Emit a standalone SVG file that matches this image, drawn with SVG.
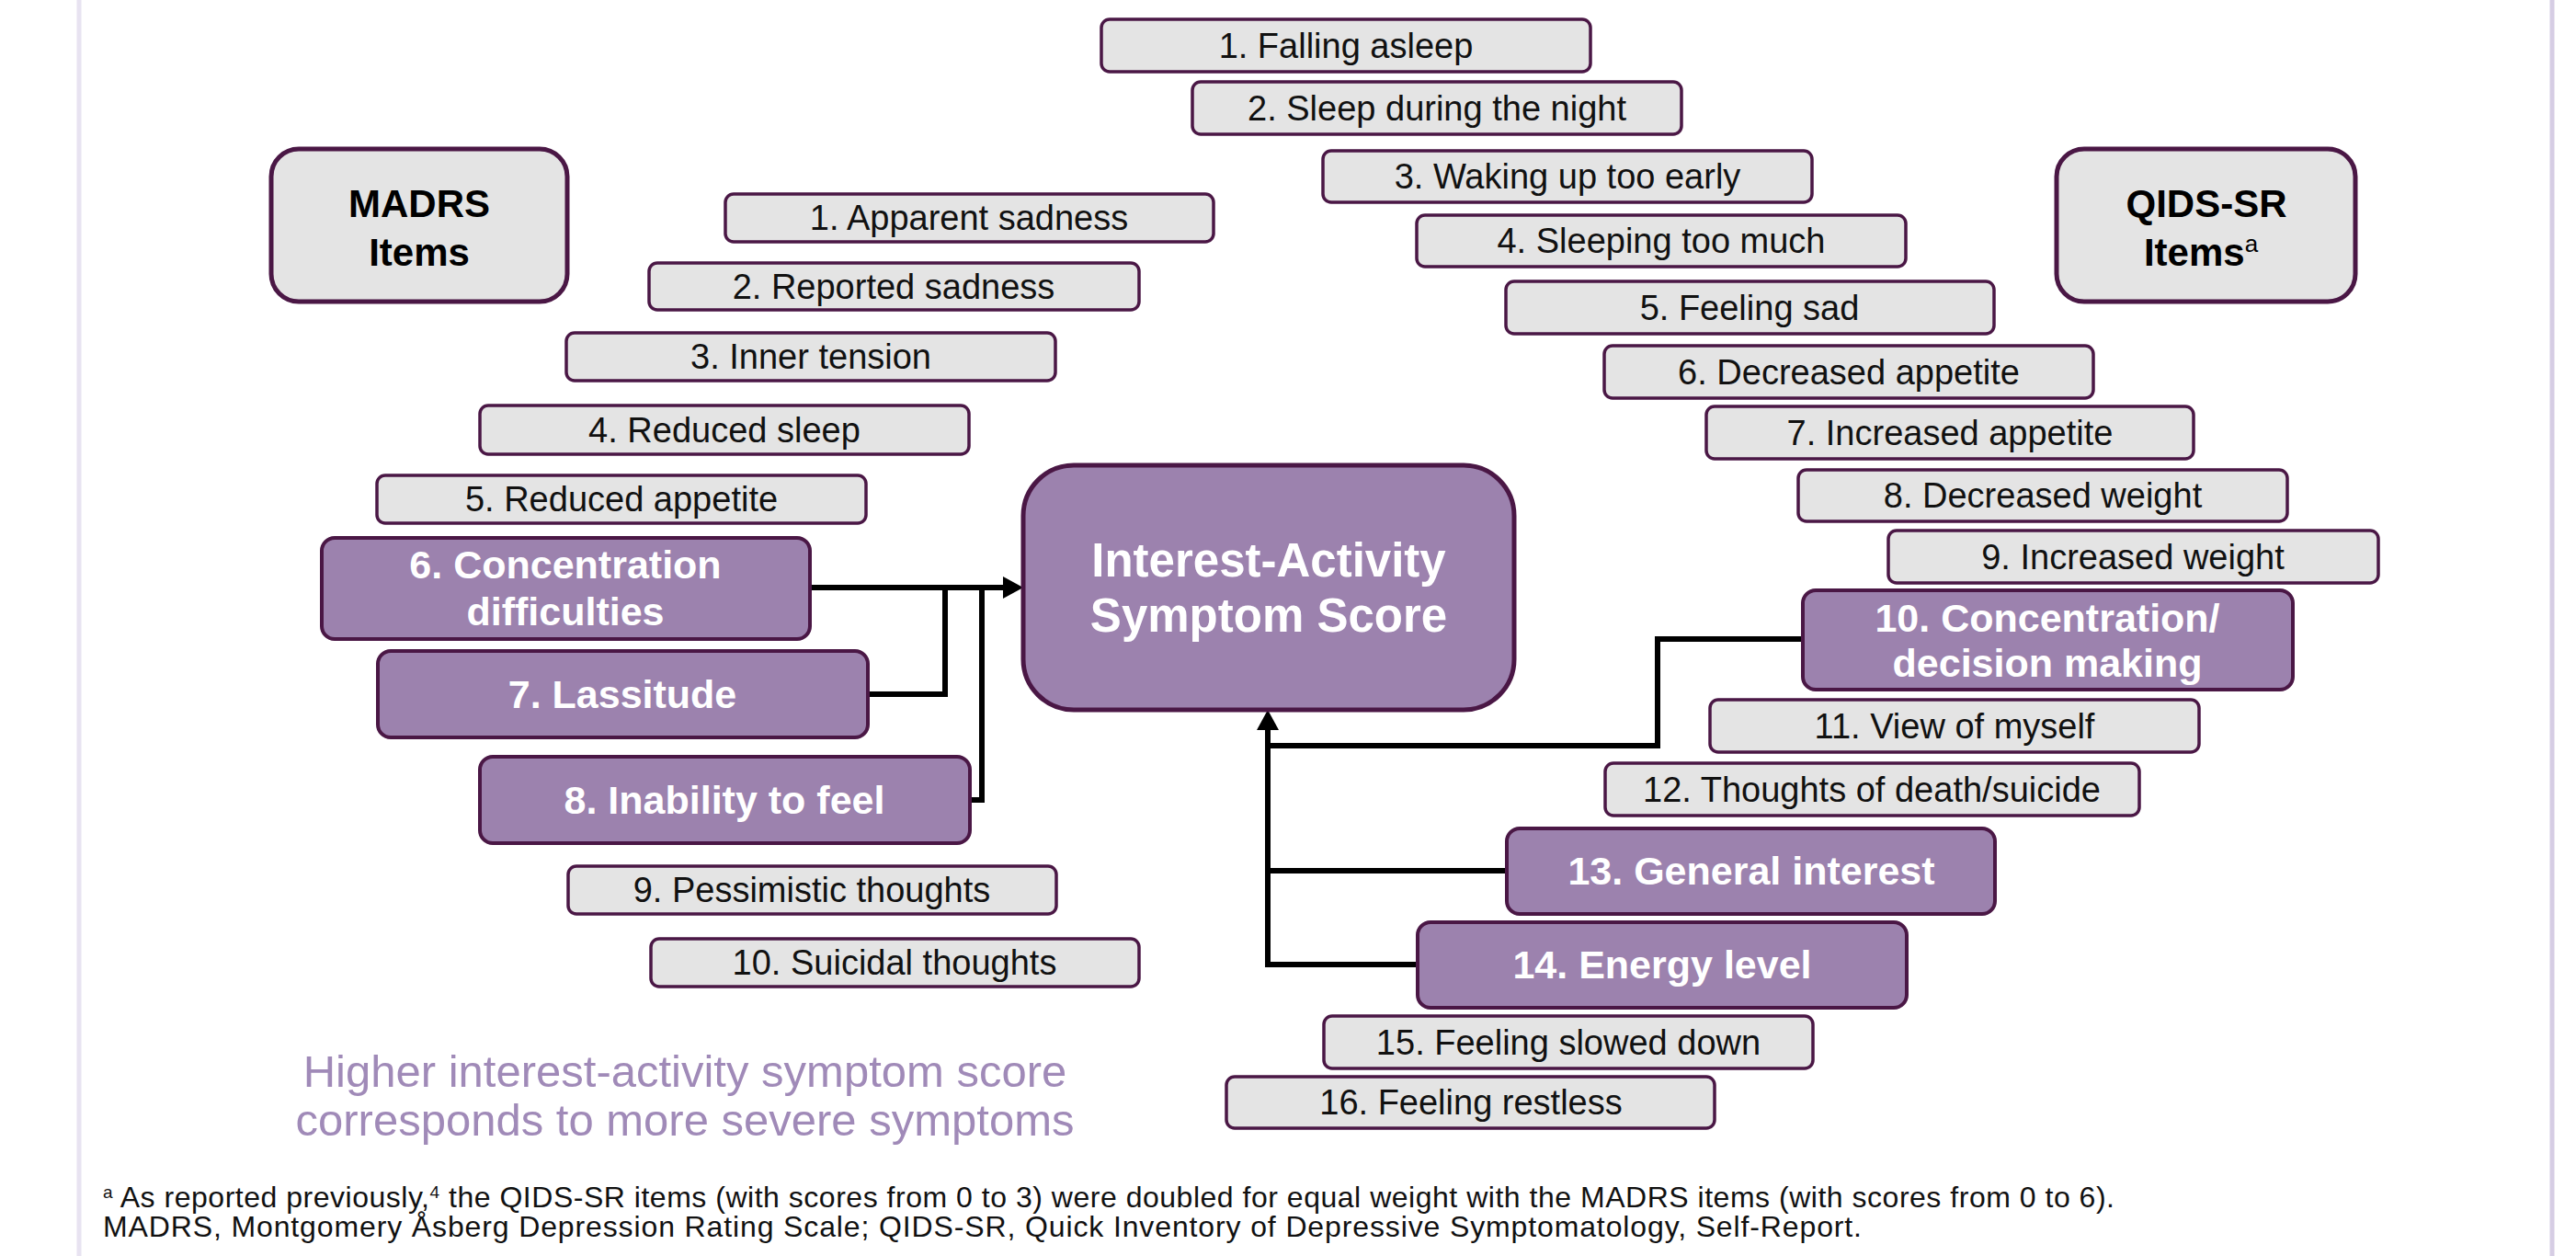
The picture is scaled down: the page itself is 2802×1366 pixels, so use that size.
<svg xmlns="http://www.w3.org/2000/svg" width="2802" height="1366" viewBox="0 0 2802 1366">
<style>
.g{fill:#e4e4e4;stroke:#4a1745;stroke-width:3.5}
.p{fill:#9c82ae;stroke:#4a1745;stroke-width:4}
.h{fill:#e4e4e4;stroke:#4a1745;stroke-width:5}
.c{fill:#9c82ae;stroke:#4a1745;stroke-width:5}
.gt{font-family:"Liberation Sans",Arial,sans-serif;font-size:38px;fill:#111;text-anchor:middle}
.pt{font-family:"Liberation Sans",Arial,sans-serif;font-size:43px;font-weight:bold;fill:#fff;text-anchor:middle}
.ht{font-family:"Liberation Sans",Arial,sans-serif;font-size:42px;font-weight:bold;fill:#000;text-anchor:middle}
.ct{font-family:"Liberation Sans",Arial,sans-serif;font-size:51px;font-weight:bold;fill:#fff;text-anchor:middle}
.note{font-family:"Liberation Sans",Arial,sans-serif;font-size:49px;fill:#a08ab8;text-anchor:middle}
.fn{font-family:"Liberation Sans",Arial,sans-serif;font-size:32px;fill:#111}
.conn{fill:none;stroke:#000;stroke-width:6;stroke-linejoin:miter}
</style>
<defs>
<marker id="arr" markerUnits="userSpaceOnUse" markerWidth="24" markerHeight="24" refX="2" refY="12" orient="auto" viewBox="0 0 24 24"><path d="M0,0 L22,12 L0,24 z" fill="#000"/></marker>
</defs>
<rect x="0" y="0" width="2802" height="1366" fill="#fff"/>
<line x1="86" y1="0" x2="86" y2="1366" stroke="#e8e3f1" stroke-width="5"/>
<line x1="2776" y1="0" x2="2776" y2="1366" stroke="#d6cde4" stroke-width="5"/>

<g id="connectors">
<path class="conn" d="M881,639 H1093" marker-end="url(#arr)"/>
<path class="conn" d="M944,755 H1028 V639"/>
<path class="conn" d="M1055,870 H1068 V639"/>
<path class="conn" d="M1542,1049 H1379 V792" marker-end="url(#arr)"/>
<path class="conn" d="M1639,947 H1379"/>
<path class="conn" d="M1961,695 H1803 V811 H1379"/>
</g>

<g id="madrs-header"><rect class="h" x="295" y="162" width="322" height="166" rx="30"/><text class="ht" x="456" y="236">MADRS</text><text class="ht" x="456" y="289">Items</text></g>
<g id="qids-header"><rect class="h" x="2237" y="162" width="325" height="166" rx="30"/><text class="ht" x="2400" y="236">QIDS-SR</text><text class="ht" x="2394" y="289">Items<tspan font-size="26" font-weight="normal" baseline-shift="super">a</tspan></text></g>

<g id="center"><rect class="c" x="1113" y="506" width="534" height="266" rx="55"/><text class="ct" x="1380" y="627">Interest-Activity</text><text class="ct" x="1380" y="687">Symptom Score</text></g>

<g id="m1"><rect class="g" x="789" y="211" width="531" height="52" rx="9"/><text class="gt" x="1054" y="250">1. Apparent sadness</text></g>
<g id="m2"><rect class="g" x="706" y="286" width="533" height="51" rx="9"/><text class="gt" x="972" y="325">2. Reported sadness</text></g>
<g id="m3"><rect class="g" x="616" y="362" width="532" height="52" rx="9"/><text class="gt" x="882" y="401">3. Inner tension</text></g>
<g id="m4"><rect class="g" x="522" y="441" width="532" height="53" rx="9"/><text class="gt" x="788" y="481">4. Reduced sleep</text></g>
<g id="m5"><rect class="g" x="410" y="517" width="532" height="52" rx="9"/><text class="gt" x="676" y="556">5. Reduced appetite</text></g>
<g id="m6"><rect class="p" x="350" y="585" width="531" height="110" rx="14"/><text class="pt" x="615" y="629">6. Concentration</text><text class="pt" x="615" y="680">difficulties</text></g>
<g id="m7"><rect class="p" x="411" y="708" width="533" height="94" rx="14"/><text class="pt" x="677" y="770">7. Lassitude</text></g>
<g id="m8"><rect class="p" x="522" y="823" width="533" height="94" rx="14"/><text class="pt" x="788" y="885">8. Inability to feel</text></g>
<g id="m9"><rect class="g" x="618" y="942" width="531" height="52" rx="9"/><text class="gt" x="883" y="981">9. Pessimistic thoughts</text></g>
<g id="m10"><rect class="g" x="708" y="1021" width="531" height="52" rx="9"/><text class="gt" x="973" y="1060">10. Suicidal thoughts</text></g>

<g id="q1"><rect class="g" x="1198" y="21" width="532" height="57" rx="9"/><text class="gt" x="1464" y="63">1. Falling asleep</text></g>
<g id="q2"><rect class="g" x="1297" y="89" width="532" height="57" rx="9"/><text class="gt" x="1563" y="131">2. Sleep during the night</text></g>
<g id="q3"><rect class="g" x="1439" y="164" width="532" height="56" rx="9"/><text class="gt" x="1705" y="205">3. Waking up too early</text></g>
<g id="q4"><rect class="g" x="1541" y="234" width="532" height="56" rx="9"/><text class="gt" x="1807" y="275">4. Sleeping too much</text></g>
<g id="q5"><rect class="g" x="1638" y="306" width="531" height="57" rx="9"/><text class="gt" x="1903" y="348">5. Feeling sad</text></g>
<g id="q6"><rect class="g" x="1745" y="376" width="532" height="57" rx="9"/><text class="gt" x="2011" y="418">6. Decreased appetite</text></g>
<g id="q7"><rect class="g" x="1856" y="442" width="530" height="57" rx="9"/><text class="gt" x="2121" y="484">7. Increased appetite</text></g>
<g id="q8"><rect class="g" x="1956" y="511" width="532" height="56" rx="9"/><text class="gt" x="2222" y="552">8. Decreased weight</text></g>
<g id="q9"><rect class="g" x="2054" y="577" width="533" height="57" rx="9"/><text class="gt" x="2320" y="619">9. Increased weight</text></g>
<g id="q10"><rect class="p" x="1961" y="642" width="533" height="108" rx="14"/><text class="pt" x="2227" y="687">10. Concentration/</text><text class="pt" x="2227" y="736">decision making</text></g>
<g id="q11"><rect class="g" x="1860" y="761" width="532" height="57" rx="9"/><text class="gt" x="2126" y="803">11. View of myself</text></g>
<g id="q12"><rect class="g" x="1746" y="830" width="581" height="57" rx="9"/><text class="gt" x="2036" y="872">12. Thoughts of death/suicide</text></g>
<g id="q13"><rect class="p" x="1639" y="901" width="531" height="93" rx="14"/><text class="pt" x="1905" y="962">13. General interest</text></g>
<g id="q14"><rect class="p" x="1542" y="1003" width="532" height="93" rx="14"/><text class="pt" x="1808" y="1064">14. Energy level</text></g>
<g id="q15"><rect class="g" x="1440" y="1105" width="532" height="57" rx="9"/><text class="gt" x="1706" y="1147">15. Feeling slowed down</text></g>
<g id="q16"><rect class="g" x="1334" y="1171" width="531" height="56" rx="9"/><text class="gt" x="1600" y="1212">16. Feeling restless</text></g>

<g id="note"><text class="note" x="745" y="1182">Higher interest-activity symptom score</text><text class="note" x="745" y="1235">corresponds to more severe symptoms</text></g>

<g id="footnotes">
<text class="fn" x="112" y="1313" textLength="2188" lengthAdjust="spacing"><tspan font-size="19" baseline-shift="super">a</tspan> As reported previously,<tspan font-size="19" baseline-shift="super">4</tspan> the QIDS-SR items (with scores from 0 to 3) were doubled for equal weight with the MADRS items (with scores from 0 to 6).</text>
<text class="fn" x="112" y="1345" textLength="1913" lengthAdjust="spacing">MADRS, Montgomery Åsberg Depression Rating Scale; QIDS-SR, Quick Inventory of Depressive Symptomatology, Self-Report.</text>
</g>
</svg>
